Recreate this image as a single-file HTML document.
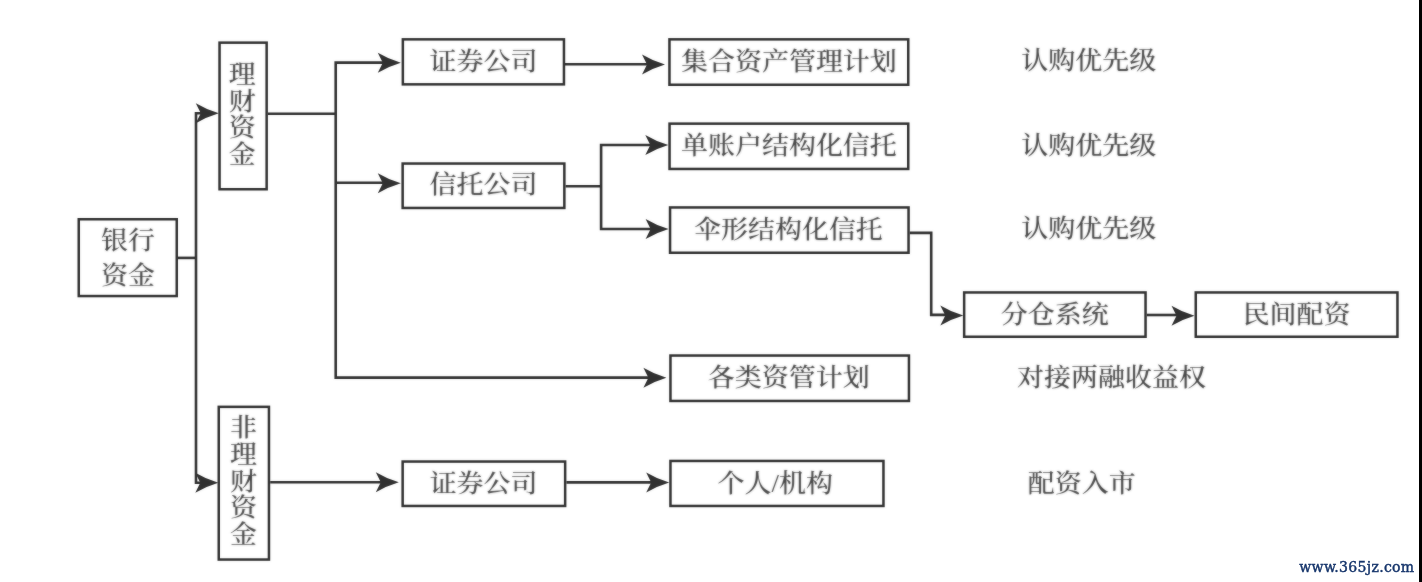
<!DOCTYPE html>
<html lang="zh-CN">
<head>
<meta charset="utf-8">
<title>银行资金流向</title>
<style>
html,body{margin:0;padding:0;background:#fff;}
body{width:1422px;height:582px;overflow:hidden;position:relative;}
svg{position:absolute;left:0;top:0;display:block;}
.g1{filter:url(#softL);}
.tx{filter:url(#softT);}
.bx rect{fill:#fff;stroke:#303030;stroke-width:2.5;}
.ln polyline{fill:none;stroke:#303030;stroke-width:2.6;stroke-linejoin:miter;}
.hd path{fill:#303030;stroke:none;}
.tx text{font-family:"Liberation Serif", "Noto Serif CJK SC", serif;font-size:27.0px;font-weight:500;fill:#424242;}
.wm{position:absolute;left:1299.3px;top:554.8px;font-family:"DejaVu Serif Condensed","DejaVu Serif","Liberation Serif",serif;font-size:15.6px;color:#17366c;-webkit-text-stroke:0.45px #17366c;line-height:24px;white-space:nowrap;letter-spacing:0.3px;filter:blur(0.4px);}
.bar{position:absolute;left:1419px;top:0;width:3px;height:582px;background:#000;}
</style>
</head>
<body>
<svg width="1422" height="582" viewBox="0 0 1422 582">
<defs>
<filter id="softT" x="-2%" y="-2%" width="104%" height="104%" color-interpolation-filters="sRGB">
<feGaussianBlur in="SourceGraphic" stdDeviation="0.85" result="b"/>
<feComposite in="SourceGraphic" in2="b" operator="arithmetic" k1="0" k2="0.45" k3="0.55" k4="0"/>
</filter>
<filter id="softL" x="-2%" y="-2%" width="104%" height="104%" color-interpolation-filters="sRGB">
<feGaussianBlur in="SourceGraphic" stdDeviation="0.85" result="b"/>
<feComposite in="SourceGraphic" in2="b" operator="arithmetic" k1="0" k2="0.7" k3="0.3" k4="0"/>
</filter>
</defs>
<g class="g1">
<g class="ln">
<polyline points="178.0,257.9 196.0,257.9"/>
<polyline points="202.0,113.3 196.0,113.3 196.0,482.8 202.0,482.8"/>
<polyline points="267.9,113.7 335.7,113.7"/>
<polyline points="385.0,62.6 335.7,62.6 335.7,377.6 650.0,377.6"/>
<polyline points="335.7,182.8 385.0,182.8"/>
<polyline points="565.0,64.2 650.0,64.2"/>
<polyline points="565.6,186.3 601.1,186.3"/>
<polyline points="652.0,145.0 601.1,145.0 601.1,229.0 652.0,229.0"/>
<polyline points="909.8,232.9 931.2,232.9 931.2,314.9 947.0,314.9"/>
<polyline points="1146.8,315.0 1178.0,315.0"/>
<polyline points="270.2,482.2 383.0,482.2"/>
<polyline points="566.4,482.4 652.0,482.4"/>
</g>
<g class="hd">
<path d="M218.8,113.3 Q206.2,109.5 195.8,103.3 L200.8,113.3 L195.8,123.3 Q206.2,117.1 218.8,113.3Z"/>
<path d="M218.3,482.8 Q205.7,479.0 195.3,472.8 L200.3,482.8 L195.3,492.8 Q205.7,486.6 218.3,482.8Z"/>
<path d="M400.8,62.7 Q388.2,58.9 377.8,52.7 L382.8,62.7 L377.8,72.7 Q388.2,66.5 400.8,62.7Z"/>
<path d="M666.4,377.7 Q653.8,373.9 643.4,367.7 L648.4,377.7 L643.4,387.7 Q653.8,381.5 666.4,377.7Z"/>
<path d="M400.8,183.2 Q388.2,179.4 377.8,173.2 L382.8,183.2 L377.8,193.2 Q388.2,187.0 400.8,183.2Z"/>
<path d="M665.0,64.6 Q652.4,60.8 642.0,54.6 L647.0,64.6 L642.0,74.6 Q652.4,68.4 665.0,64.6Z"/>
<path d="M668.3,145.0 Q655.6,141.2 645.3,135.0 L650.3,145.0 L645.3,155.0 Q655.6,148.8 668.3,145.0Z"/>
<path d="M668.6,229.0 Q656.0,225.2 645.6,219.0 L650.6,229.0 L645.6,239.0 Q656.0,232.8 668.6,229.0Z"/>
<path d="M963.3,315.4 Q950.6,311.6 940.3,305.4 L945.3,315.4 L940.3,325.4 Q950.6,319.2 963.3,315.4Z"/>
<path d="M1194.5,315.8 Q1181.8,312.0 1171.5,305.8 L1176.5,315.8 L1171.5,325.8 Q1181.8,319.6 1194.5,315.8Z"/>
<path d="M398.8,482.3 Q386.2,478.5 375.8,472.3 L380.8,482.3 L375.8,492.3 Q386.2,486.1 398.8,482.3Z"/>
<path d="M669.2,482.4 Q656.6,478.6 646.2,472.4 L651.2,482.4 L646.2,492.4 Q656.6,486.2 669.2,482.4Z"/>
</g>
<g class="bx">
<rect x="78.75" y="219.25" width="98.00" height="76.80"/>
<rect x="219.55" y="42.65" width="47.10" height="146.60"/>
<rect x="218.75" y="406.85" width="50.20" height="152.70"/>
<rect x="402.85" y="39.35" width="161.10" height="45.00"/>
<rect x="402.65" y="163.55" width="161.70" height="44.40"/>
<rect x="402.65" y="461.55" width="162.50" height="44.40"/>
<rect x="669.45" y="39.35" width="238.80" height="45.40"/>
<rect x="669.55" y="123.65" width="238.70" height="45.30"/>
<rect x="670.05" y="207.45" width="238.50" height="45.30"/>
<rect x="964.15" y="292.45" width="181.40" height="44.30"/>
<rect x="1195.75" y="292.45" width="201.70" height="44.30"/>
<rect x="670.45" y="355.55" width="238.50" height="45.40"/>
<rect x="670.45" y="460.95" width="213.00" height="45.00"/>
</g>
</g>
<g class="tx">
<text transform="translate(483.4 69.6) scale(1 0.94)" text-anchor="middle">证券公司</text>
<text transform="translate(483.5 193.4) scale(1 0.94)" text-anchor="middle">信托公司</text>
<text transform="translate(483.6 492.1) scale(1 0.94)" text-anchor="middle">证券公司</text>
<text transform="translate(788.9 70.2) scale(1 0.94)" text-anchor="middle">集合资产管理计划</text>
<text transform="translate(788.9 154.2) scale(1 0.94)" text-anchor="middle">单账户结构化信托</text>
<text transform="translate(788.4 237.9) scale(1 0.94)" text-anchor="middle">伞形结构化信托</text>
<text transform="translate(1054.8 323.1) scale(1 0.94)" text-anchor="middle">分仓系统</text>
<text transform="translate(1296.6 323.2) scale(1 0.94)" text-anchor="middle">民间配资</text>
<text transform="translate(788.7 386.4) scale(1 0.94)" text-anchor="middle">各类资管计划</text>
<text transform="translate(775.2 491.8) scale(1 0.94)" text-anchor="middle">个人/机构</text>
<text transform="translate(128.0 249.2) scale(1 0.94)" text-anchor="middle"><tspan x="0" dy="0">银行</tspan><tspan x="0" dy="37.02">资金</tspan></text>
<text transform="translate(242.3 82.9) scale(1 0.94)" text-anchor="middle"><tspan x="0" dy="0">理</tspan><tspan x="0" dy="28.51">财</tspan><tspan x="0" dy="28.51">资</tspan><tspan x="0" dy="28.51">金</tspan></text>
<text transform="translate(243.4 436.0) scale(1 0.94)" text-anchor="middle"><tspan x="0" dy="0">非</tspan><tspan x="0" dy="28.51">理</tspan><tspan x="0" dy="28.51">财</tspan><tspan x="0" dy="28.51">资</tspan><tspan x="0" dy="28.51">金</tspan></text>
<text transform="translate(1088.7 69.4) scale(1 0.94)" text-anchor="middle">认购优先级</text>
<text transform="translate(1088.7 153.5) scale(1 0.94)" text-anchor="middle">认购优先级</text>
<text transform="translate(1088.7 237.2) scale(1 0.94)" text-anchor="middle">认购优先级</text>
<text transform="translate(1111.5 386.3) scale(1 0.94)" text-anchor="middle">对接两融收益权</text>
<text transform="translate(1081.8 491.8) scale(1 0.94)" text-anchor="middle">配资入市</text>
</g>
</svg>
<div class="wm">www.365jz.com</div>
<div class="bar"></div>
</body>
</html>
